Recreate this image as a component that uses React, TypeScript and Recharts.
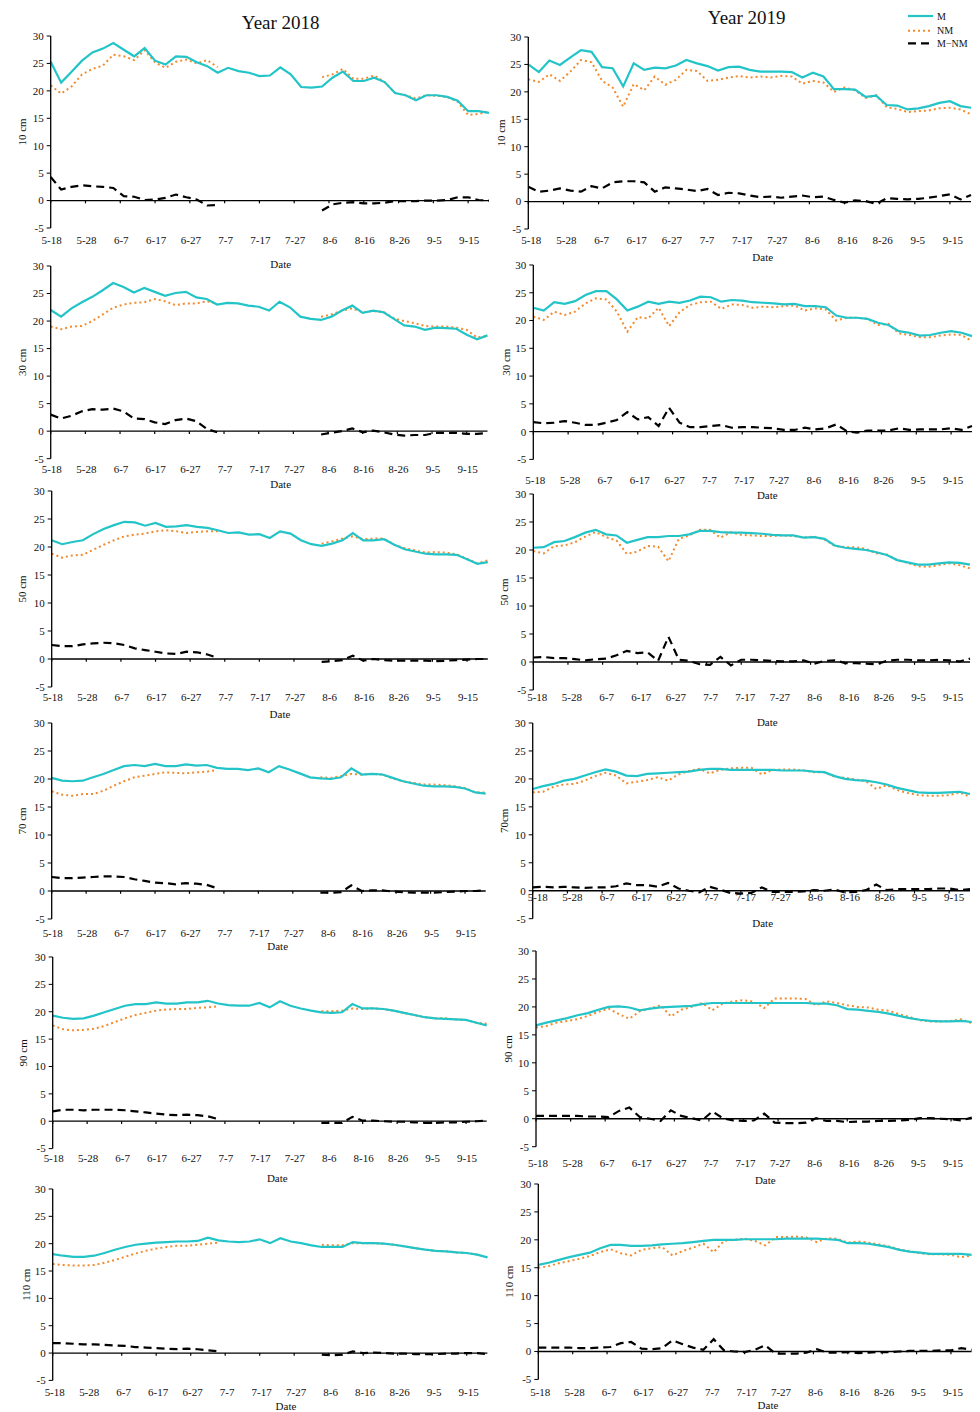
import React from "react";
import { LineChart, Line, XAxis, YAxis, ReferenceLine, Label } from "recharts";

// sample day offsets from 5-18 (every 3 days)
const days = [0, 3, 6, 9, 12, 15, 18, 21, 24, 27, 30, 33, 36, 39, 42, 45, 48, 51, 54, 57, 60, 63, 66, 69, 72, 75, 78, 81, 84, 87, 90, 93, 96, 99, 102, 105, 108, 111, 114, 117, 120, 123, 126];
const tickDays = [0, 10, 20, 30, 40, 50, 60, 70, 80, 90, 100, 110, 120];
const tickLabels = ["5-18", "5-28", "6-7", "6-17", "6-27", "7-7", "7-17", "7-27", "8-6", "8-16", "8-26", "9-5", "9-15"];
const yTicks = [-5, 0, 5, 10, 15, 20, 25, 30];

const N = null;

// 2018
const m18_10 = [25.3, 21.5, 23.5, 25.5, 27.0, 27.7, 28.7, 27.5, 26.3, 27.8, 25.5, 24.8, 26.3, 26.2, 25.2, 24.5, 23.3, 24.2, 23.6, 23.3, 22.7, 22.8, 24.3, 23.0, 20.7, 20.6, 20.8, 22.4, 23.5, 21.8, 21.8, 22.4, 21.6, 19.6, 19.2, 18.3, 19.2, 19.2, 18.9, 18.2, 16.3, 16.3, 16.0];
const nm18_10 = [21.0, 19.5, 20.8, 23.0, 24.0, 24.6, 26.6, 26.3, 25.6, 27.4, 25.2, 24.2, 25.3, 25.7, 25.0, 25.6, 24.3, N, N, N, N, N, N, N, N, N, 22.5, 23.0, 24.0, 22.2, 22.2, 22.8, 21.6, 19.6, 19.2, 18.6, 19.2, 19.1, 18.9, 18.0, 15.6, 15.8, 16.2];
const d18_10 = [4.3, 2.0, 2.5, 2.8, 2.6, 2.5, 2.3, 0.8, 0.7, 0.1, 0.2, 0.5, 1.1, 0.6, 0.2, -0.9, -0.8, N, N, N, N, N, N, N, N, N, -1.8, -0.7, -0.4, -0.3, -0.5, -0.5, -0.4, -0.1, -0.1, -0.1, 0, 0, 0.1, 0.6, 0.6, 0.1, 0];

const m18_30 = [22.0, 20.8, 22.3, 23.4, 24.4, 25.6, 26.9, 26.2, 25.2, 26.0, 25.3, 24.6, 25.1, 25.3, 24.3, 24.0, 23.0, 23.3, 23.2, 22.8, 22.6, 21.9, 23.5, 22.5, 20.8, 20.4, 20.2, 20.8, 21.9, 22.8, 21.5, 21.9, 21.6, 20.4, 19.2, 19.0, 18.4, 18.8, 18.7, 18.6, 17.5, 16.7, 17.4];
const nm18_30 = [19.0, 18.5, 19.0, 19.1, 20.0, 21.2, 22.4, 23.0, 23.3, 23.4, 24.0, 23.6, 22.9, 23.2, 23.2, 23.6, 23.2, N, N, N, N, N, N, N, N, N, 20.8, 21.2, 21.9, 22.3, 21.6, 21.8, 21.7, 20.5, 20.0, 19.6, 19.1, 19.0, 19.0, 18.8, 18.4, 17.0, 17.3];
const d18_30 = [3.0, 2.3, 2.8, 3.6, 4.0, 3.9, 4.1, 3.6, 2.3, 2.2, 1.6, 1.3, 2.0, 2.3, 1.8, 0.4, -0.2, N, N, N, N, N, N, N, N, N, -0.6, -0.3, 0, 0.5, -0.2, 0.1, -0.2, -0.6, -0.8, -0.7, -0.7, -0.3, -0.3, -0.3, -0.5, -0.5, -0.3];

const m18_50 = [21.2, 20.5, 20.9, 21.2, 22.3, 23.2, 23.9, 24.5, 24.4, 23.8, 24.3, 23.6, 23.7, 23.9, 23.6, 23.4, 23.0, 22.5, 22.6, 22.2, 22.3, 21.6, 22.8, 22.4, 21.2, 20.5, 20.2, 20.6, 21.2, 22.5, 21.2, 21.2, 21.4, 20.4, 19.6, 19.2, 18.8, 18.7, 18.7, 18.6, 17.8, 17.0, 17.3];
const nm18_50 = [18.8, 18.1, 18.5, 18.6, 19.5, 20.4, 21.2, 21.9, 22.2, 22.4, 22.8, 23.0, 22.8, 22.5, 22.7, 22.8, 22.8, N, N, N, N, N, N, N, N, N, 20.6, 21.0, 21.5, 21.9, 21.4, 21.5, 21.5, 20.4, 19.8, 19.4, 19.0, 19.1, 19.0, 18.7, 17.9, 17.1, 17.6];
const d18_50 = [2.5, 2.3, 2.3, 2.6, 2.8, 2.9, 2.8, 2.5, 1.9, 1.6, 1.3, 1.0, 0.9, 1.3, 1.2, 0.8, 0.2, N, N, N, N, N, N, N, N, N, -0.5, -0.4, -0.2, 0.6, -0.3, 0, -0.2, -0.3, -0.3, -0.3, -0.3, -0.4, -0.3, -0.2, -0.1, 0, 0];

const m18_70 = [20.2, 19.7, 19.6, 19.7, 20.3, 20.9, 21.6, 22.3, 22.5, 22.3, 22.7, 22.3, 22.3, 22.6, 22.4, 22.5, 22.0, 21.8, 21.8, 21.6, 21.9, 21.2, 22.3, 21.7, 21.0, 20.3, 20.1, 20.0, 20.3, 21.9, 20.8, 20.9, 20.8, 20.2, 19.6, 19.2, 18.8, 18.7, 18.7, 18.6, 18.3, 17.6, 17.4];
const nm18_70 = [17.8, 17.2, 17.0, 17.3, 17.3, 17.9, 18.8, 19.6, 20.3, 20.6, 20.9, 21.2, 21.1, 21.0, 21.2, 21.3, 21.6, N, N, N, N, N, N, N, N, N, 20.3, 20.2, 20.5, 20.9, 20.8, 20.9, 20.8, 20.1, 19.6, 19.3, 19.0, 19.0, 18.9, 18.7, 18.4, 17.6, 17.6];
const d18_70 = [2.5, 2.3, 2.3, 2.4, 2.5, 2.6, 2.6, 2.5, 2.1, 1.8, 1.5, 1.4, 1.2, 1.4, 1.3, 1.1, 0.5, N, N, N, N, N, N, N, N, N, -0.3, -0.3, -0.2, 1.0, 0.0, 0.1, 0.1, -0.1, -0.2, -0.3, -0.3, -0.3, -0.2, -0.1, 0, 0, 0.1];

const m18_90 = [19.3, 18.9, 18.7, 18.8, 19.3, 19.9, 20.5, 21.1, 21.4, 21.4, 21.7, 21.5, 21.5, 21.7, 21.7, 22.0, 21.5, 21.2, 21.1, 21.1, 21.6, 20.8, 21.9, 21.1, 20.6, 20.2, 19.9, 19.8, 19.9, 21.4, 20.6, 20.6, 20.5, 20.2, 19.8, 19.4, 19.0, 18.8, 18.7, 18.6, 18.5, 18.0, 17.5];
const nm18_90 = [17.5, 16.8, 16.6, 16.7, 16.9, 17.4, 18.1, 18.8, 19.4, 19.8, 20.2, 20.4, 20.5, 20.5, 20.7, 20.8, 21.0, N, N, N, N, N, N, N, N, N, 20.1, 20.1, 20.2, 20.6, 20.5, 20.6, 20.5, 20.2, 19.8, 19.4, 19.0, 18.8, 18.8, 18.6, 18.5, 18.0, 17.8];
const d18_90 = [1.8, 2.1, 2.1, 2.0, 2.1, 2.1, 2.1, 2.0, 1.8, 1.6, 1.4, 1.2, 1.1, 1.2, 1.1, 0.9, 0.4, N, N, N, N, N, N, N, N, N, -0.3, -0.3, -0.3, 0.8, 0.1, 0.1, 0.0, -0.1, -0.1, -0.2, -0.3, -0.3, -0.2, -0.2, -0.1, 0, 0.1];

const m18_110 = [18.1, 17.8, 17.6, 17.6, 17.8, 18.3, 18.9, 19.4, 19.8, 20.0, 20.2, 20.3, 20.4, 20.4, 20.5, 21.1, 20.6, 20.4, 20.3, 20.4, 20.8, 20.1, 21.0, 20.4, 20.1, 19.7, 19.4, 19.4, 19.4, 20.3, 20.1, 20.1, 20.0, 19.8, 19.5, 19.2, 18.9, 18.7, 18.6, 18.4, 18.3, 18.0, 17.5];
const nm18_110 = [16.3, 16.1, 16.0, 16.0, 16.1, 16.5, 17.0, 17.6, 18.2, 18.7, 19.1, 19.4, 19.6, 19.6, 19.8, 20.0, 20.2, N, N, N, N, N, N, N, N, N, 19.8, 19.7, 19.7, 20.1, 20.1, 20.1, 20.0, 19.8, 19.5, 19.2, 18.9, 18.7, 18.6, 18.4, 18.3, 18.0, 17.5];
const d18_110 = [1.8, 1.8, 1.7, 1.6, 1.6, 1.5, 1.4, 1.3, 1.1, 1.0, 0.9, 0.8, 0.7, 0.8, 0.7, 0.5, 0.3, N, N, N, N, N, N, N, N, N, -0.3, -0.4, -0.3, 0.3, 0.0, 0.1, 0.0, -0.1, -0.1, -0.2, -0.2, -0.2, -0.1, -0.1, 0, 0, -0.2];

// 2019
const m19_10 = [25.0, 23.6, 25.7, 24.9, 26.3, 27.6, 27.3, 24.5, 24.3, 21.0, 25.2, 24.0, 24.4, 24.3, 24.8, 25.8, 25.2, 24.7, 23.9, 24.5, 24.6, 24.0, 23.7, 23.7, 23.7, 23.6, 22.6, 23.5, 22.8, 20.5, 20.5, 20.4, 19.1, 19.3, 17.6, 17.5, 16.8, 17.0, 17.4, 18.0, 18.3, 17.4, 17.1];
const nm19_10 = [22.3, 21.8, 23.2, 22.0, 23.7, 25.8, 25.4, 22.0, 20.8, 17.3, 21.4, 20.3, 22.8, 21.3, 22.2, 24.0, 23.8, 22.0, 22.2, 22.6, 22.9, 22.6, 22.8, 22.6, 22.9, 22.8, 21.5, 22.0, 21.7, 20.0, 20.8, 20.3, 18.9, 19.4, 17.2, 16.9, 16.3, 16.5, 16.6, 17.0, 17.1, 16.8, 15.9];
const d19_10 = [2.7, 1.8, 2.0, 2.4, 2.0, 1.8, 2.8, 2.4, 3.5, 3.7, 3.7, 3.5, 1.8, 2.6, 2.4, 2.2, 1.9, 2.3, 1.2, 1.6, 1.5, 1.1, 0.8, 0.9, 0.7, 0.9, 1.1, 0.8, 0.9, 0.3, -0.2, 0.2, 0.1, -0.4, 0.6, 0.5, 0.4, 0.5, 0.7, 1.0, 1.3, 0.4, 1.2];

const m19_30 = [22.3, 21.8, 23.3, 23.0, 23.5, 24.6, 25.3, 25.3, 23.8, 21.8, 22.5, 23.4, 23.0, 23.4, 23.2, 23.6, 24.3, 24.2, 23.4, 23.7, 23.6, 23.3, 23.2, 23.1, 22.9, 23.0, 22.6, 22.6, 22.4, 20.9, 20.5, 20.5, 20.3, 19.6, 19.2, 18.1, 17.8, 17.3, 17.4, 17.8, 18.1, 17.8, 17.2];
const nm19_30 = [20.7, 20.1, 21.6, 21.0, 21.6, 23.1, 24.0, 23.8, 21.6, 18.0, 20.6, 20.4, 22.3, 19.0, 21.5, 22.8, 23.3, 23.4, 22.1, 22.9, 22.8, 22.3, 22.5, 22.4, 22.6, 22.7, 21.8, 22.2, 22.0, 20.0, 20.5, 20.5, 20.3, 19.2, 19.4, 17.7, 17.4, 17.0, 17.0, 17.3, 17.5, 17.4, 16.3];
const d19_30 = [1.7, 1.5, 1.6, 1.9, 1.6, 1.2, 1.2, 1.6, 2.1, 3.5, 2.2, 2.6, 1.0, 4.3, 1.6, 0.8, 0.8, 1.0, 1.2, 0.7, 0.8, 0.8, 0.7, 0.6, 0.3, 0.3, 0.7, 0.4, 0.6, 1.3, 0.1, -0.2, 0.2, 0.2, 0.2, 0.6, 0.3, 0.4, 0.4, 0.4, 0.6, 0.3, 1.0];

const m19_50 = [20.4, 20.5, 21.4, 21.6, 22.3, 23.1, 23.6, 22.8, 22.6, 21.3, 21.8, 22.3, 22.3, 22.5, 22.5, 22.8, 23.4, 23.4, 23.2, 23.1, 23.1, 23.0, 22.9, 22.7, 22.6, 22.6, 22.2, 22.3, 22.0, 20.8, 20.4, 20.2, 20.0, 19.6, 19.1, 18.2, 17.8, 17.4, 17.4, 17.6, 17.8, 17.7, 17.4];
const nm19_50 = [19.8, 19.4, 20.7, 20.8, 21.4, 22.4, 23.2, 22.3, 21.7, 19.3, 19.7, 20.7, 20.6, 18.0, 22.0, 22.6, 23.6, 23.6, 22.2, 23.2, 22.7, 22.6, 22.5, 22.5, 22.6, 22.5, 22.2, 22.4, 21.9, 20.7, 20.5, 20.5, 20.2, 19.4, 19.2, 18.2, 17.7, 17.1, 17.0, 17.3, 17.6, 17.3, 16.7];
const d19_50 = [0.8, 0.9, 0.7, 0.7, 0.5, 0.3, 0.5, 0.6, 1.2, 2.0, 1.6, 1.7, 0.2, 4.5, 0.4, 0.2, -0.4, -0.5, 0.9, -0.6, 0.4, 0.4, 0.3, 0.2, 0.1, 0.1, 0.3, -0.3, 0.2, 0.3, -0.2, -0.2, -0.3, -0.4, 0.2, 0.4, 0.4, 0.3, 0.3, 0.4, 0.3, 0.1, 0.6];

const m19_70 = [18.2, 18.7, 19.1, 19.7, 20.0, 20.6, 21.2, 21.7, 21.3, 20.6, 20.5, 20.9, 21.0, 21.1, 21.2, 21.3, 21.6, 21.8, 21.8, 21.6, 21.6, 21.6, 21.6, 21.6, 21.5, 21.5, 21.5, 21.3, 21.2, 20.5, 20.0, 19.8, 19.7, 19.4, 19.0, 18.4, 18.0, 17.6, 17.5, 17.5, 17.6, 17.7, 17.3];
const nm19_70 = [17.6, 17.7, 18.6, 19.0, 19.1, 19.7, 20.5, 21.1, 20.6, 19.2, 19.5, 19.8, 20.3, 19.7, 20.8, 21.4, 21.8, 21.0, 21.6, 21.9, 22.0, 22.0, 20.8, 21.6, 21.7, 21.7, 21.5, 21.2, 21.2, 20.4, 20.2, 19.9, 19.6, 18.2, 18.9, 18.0, 17.5, 17.1, 17.0, 17.0, 17.1, 17.6, 16.8];
const d19_70 = [0.6, 0.7, 0.6, 0.7, 0.6, 0.5, 0.6, 0.6, 0.8, 1.3, 1.0, 1.0, 0.7, 1.4, 0.4, 0, -0.3, 0.7, 0.2, -0.4, -0.5, -0.4, 0.6, -0.2, -0.2, -0.2, -0.1, 0.1, 0.0, 0.2, -0.3, -0.2, 0.1, 1.1, 0.1, 0.3, 0.3, 0.3, 0.3, 0.4, 0.4, 0.1, 0.3];

const m19_90 = [16.7, 17.2, 17.6, 18.0, 18.5, 18.9, 19.5, 20.0, 20.1, 19.9, 19.4, 19.7, 19.9, 20.0, 20.1, 20.2, 20.5, 20.7, 20.7, 20.7, 20.7, 20.7, 20.7, 20.7, 20.7, 20.7, 20.7, 20.6, 20.6, 20.3, 19.6, 19.5, 19.3, 19.1, 18.8, 18.4, 18.0, 17.7, 17.5, 17.4, 17.4, 17.5, 17.3];
const nm19_90 = [16.3, 16.6, 17.2, 17.5, 17.8, 18.4, 19.1, 19.7, 18.7, 17.9, 19.2, 19.7, 20.3, 18.3, 19.5, 20.0, 20.7, 19.4, 20.6, 21.0, 21.2, 20.9, 19.8, 21.5, 21.5, 21.5, 21.4, 20.3, 21.0, 20.7, 20.3, 20.0, 19.9, 19.5, 19.3, 18.7, 18.2, 17.6, 17.4, 17.4, 17.5, 17.8, 17.1];
const d19_90 = [0.5, 0.5, 0.5, 0.5, 0.5, 0.4, 0.4, 0.3, 1.4, 2.0, 0.3, 0.0, -0.4, 1.5, 0.5, 0.1, -0.3, 1.3, 0.1, -0.3, -0.4, -0.3, 0.9, -0.7, -0.8, -0.8, -0.7, 0.1, -0.4, -0.4, -0.6, -0.5, -0.5, -0.4, -0.4, -0.3, -0.2, 0.1, 0.1, 0, -0.1, -0.3, 0.2];

const m19_110 = [15.5, 15.9, 16.4, 16.9, 17.3, 17.7, 18.5, 19.1, 19.1, 18.9, 18.9, 19.0, 19.2, 19.3, 19.4, 19.6, 19.8, 20.0, 20.0, 20.0, 20.1, 20.1, 20.1, 20.1, 20.2, 20.2, 20.2, 20.2, 20.1, 20.0, 19.4, 19.4, 19.3, 19.0, 18.7, 18.2, 17.9, 17.7, 17.5, 17.5, 17.5, 17.5, 17.3];
const nm19_110 = [15.0, 15.3, 15.8, 16.2, 16.6, 17.1, 17.8, 18.3, 17.6, 17.2, 18.2, 18.5, 18.7, 17.2, 18.0, 18.6, 19.3, 17.8, 19.8, 20.0, 20.2, 19.8, 19.0, 20.5, 20.5, 20.6, 20.4, 19.6, 20.3, 20.2, 19.5, 19.7, 19.5, 19.2, 18.8, 18.3, 17.9, 17.6, 17.4, 17.4, 17.3, 16.9, 17.2];
const d19_110 = [0.7, 0.7, 0.7, 0.7, 0.6, 0.6, 0.7, 0.8, 1.5, 1.7, 0.5, 0.4, 0.6, 2.0, 1.3, 0.7, 0.3, 2.2, 0.2, 0, -0.1, 0.3, 1.1, -0.4, -0.4, -0.4, -0.2, 0.4, -0.2, -0.2, -0.1, -0.3, -0.2, -0.1, -0.1, 0, 0.1, 0.1, 0.1, 0.2, 0.2, 0.6, 0.3];

const CYAN = "#22C4C8";
const ORANGE = "#F28A2E";
const FONT = '"Liberation Serif", "Times New Roman", serif';

type Series = (number | null)[];
interface PanelDef {
  yLabel: string;
  m: Series;
  nm: Series;
  diff: Series;
  colLeft: number;
  plotLeft: number;
  plotRight: number;
  plotTop: number;
  plotBottom: number;
  tickY: number;
  tickDx: number;
  dateX: number;
  dateY: number;
  yLabelX: number;
}

const panels: PanelDef[] = [
  { yLabel: "10 cm", m: m18_10, nm: nm18_10, diff: d18_10, colLeft: 0, plotLeft: 50.7, plotRight: 489, plotTop: 35.7, plotBottom: 227.7, tickY: 239.3, tickDx: 1, dateX: 280.7, dateY: 263.3, yLabelX: 22 },
  { yLabel: "10 cm", m: m19_10, nm: nm19_10, diff: d19_10, colLeft: 490, plotLeft: 528.3, plotRight: 971, plotTop: 36.7, plotBottom: 228.7, tickY: 239.3, tickDx: 3, dateX: 762.7, dateY: 256.7, yLabelX: 500.7 },
  { yLabel: "30 cm", m: m18_30, nm: nm18_30, diff: d18_30, colLeft: 0, plotLeft: 50.7, plotRight: 487.5, plotTop: 266.3, plotBottom: 459, tickY: 469.7, tickDx: 1, dateX: 280.7, dateY: 484, yLabelX: 22 },
  { yLabel: "30 cm", m: m19_30, nm: nm19_30, diff: d19_30, colLeft: 490, plotLeft: 533.3, plotRight: 972, plotTop: 265.3, plotBottom: 459.7, tickY: 480.7, tickDx: 2, dateX: 767.3, dateY: 495.3, yLabelX: 505.7 },
  { yLabel: "50 cm", m: m18_50, nm: nm18_50, diff: d18_50, colLeft: 0, plotLeft: 51.7, plotRight: 487.8, plotTop: 491, plotBottom: 687, tickY: 697, tickDx: 1, dateX: 280, dateY: 713.7, yLabelX: 22 },
  { yLabel: "50 cm", m: m19_50, nm: nm19_50, diff: d19_50, colLeft: 490, plotLeft: 533.3, plotRight: 970, plotTop: 494, plotBottom: 690, tickY: 697.3, tickDx: 4, dateX: 767.3, dateY: 721.7, yLabelX: 504 },
  { yLabel: "70 cm", m: m18_70, nm: nm18_70, diff: d18_70, colLeft: 0, plotLeft: 51.7, plotRight: 485.7, plotTop: 723.3, plotBottom: 919.3, tickY: 933.3, tickDx: 1, dateX: 277.7, dateY: 946.7, yLabelX: 22 },
  { yLabel: "70cm", m: m19_70, nm: nm19_70, diff: d19_70, colLeft: 490, plotLeft: 532.7, plotRight: 970, plotTop: 723.3, plotBottom: 919, tickY: 897.7, tickDx: 5, dateX: 762.7, dateY: 923.3, yLabelX: 504 },
  { yLabel: "90 cm", m: m18_90, nm: nm18_90, diff: d18_90, colLeft: 0, plotLeft: 52.7, plotRight: 486.7, plotTop: 956.7, plotBottom: 1148.3, tickY: 1157.3, tickDx: 1, dateX: 277.3, dateY: 1177.7, yLabelX: 23 },
  { yLabel: "90 cm", m: m19_90, nm: nm19_90, diff: d19_90, colLeft: 490, plotLeft: 536, plotRight: 971.8, plotTop: 951, plotBottom: 1146.7, tickY: 1163.3, tickDx: 2, dateX: 765.3, dateY: 1180, yLabelX: 508 },
  { yLabel: "110 cm", m: m18_110, nm: nm18_110, diff: d18_110, colLeft: 0, plotLeft: 52.7, plotRight: 487.4, plotTop: 1189.3, plotBottom: 1380.7, tickY: 1392.3, tickDx: 2, dateX: 286, dateY: 1406, yLabelX: 26 },
  { yLabel: "110 cm", m: m19_110, nm: nm19_110, diff: d19_110, colLeft: 490, plotLeft: 538.3, plotRight: 971.6, plotTop: 1184.3, plotBottom: 1379.7, tickY: 1392.3, tickDx: 2, dateX: 768, dateY: 1405, yLabelX: 509 },
];

function XTick(props: any) {
  const { x, y, payload, off, dx } = props;
  const i = tickDays.indexOf(payload.value);
  return (
    <text x={x + dx} y={y + off} textAnchor="middle" dominantBaseline="central" fontSize={11} fill="#111" fontFamily={FONT}>
      {tickLabels[i]}
    </text>
  );
}

function Panel({ p }: { p: PanelDef }) {
  const mt = 10;
  const xAxisH = 44;
  const top = p.plotTop - mt;
  const height = mt + (p.plotBottom - p.plotTop) + xAxisH;
  const width = p.plotRight + 6 - p.colLeft;
  const rows = days.map((d, i) => ({ day: d, m: p.m[i], nm: p.nm[i], diff: p.diff[i] }));
  const yl = p.yLabelX - p.colLeft;
  const yc = mt + (p.plotBottom - p.plotTop) / 2;

  return (
    <div style={{ position: "absolute", left: p.colLeft, top }}>
      <LineChart width={width} height={height} data={rows} margin={{ top: mt, right: 6, left: 0, bottom: 0 }}>
        <XAxis
          dataKey="day"
          type="number"
          domain={[0, 126]}
          ticks={tickDays}
          interval={0}
          axisLine={false}
          tickLine={false}
          tickSize={0}
          tickMargin={0}
          height={xAxisH}
          tick={<XTick off={p.tickY - p.plotBottom} dx={p.tickDx} />}
          label={
            <Label
              content={() => (
                <text x={p.dateX - p.colLeft} y={p.dateY - top} textAnchor="middle" dominantBaseline="central" fontSize={11} fill="#111" fontFamily={FONT}>
                  Date
                </text>
              )}
            />
          }
        />
        <YAxis
          type="number"
          domain={[-5, 30]}
          ticks={yTicks}
          interval={0}
          width={p.plotLeft - p.colLeft}
          tickSize={4}
          tickMargin={3}
          axisLine={{ stroke: "#000", strokeWidth: 1.3 }}
          tickLine={{ stroke: "#000" }}
          tick={{ fontSize: 11, fill: "#111", fontFamily: FONT }}
          label={
            <Label
              content={() => (
                <text x={yl} y={yc} transform={`rotate(-90 ${yl} ${yc})`} textAnchor="middle" dominantBaseline="central" fontSize={11} fill="#111" fontFamily={FONT}>
                  {p.yLabel}
                </text>
              )}
            />
          }
        />
        <ReferenceLine y={0} stroke="#000" strokeWidth={1.3} />
        {tickDays.map((t) => (
          <ReferenceLine key={t} segment={[{ x: t, y: 0 }, { x: t, y: -0.5 }]} stroke="#000" strokeWidth={1.2} />
        ))}
        <Line type="linear" dataKey="nm" stroke={ORANGE} strokeWidth={2} strokeDasharray="2 3" dot={false} connectNulls={false} isAnimationActive={false} />
        <Line type="linear" dataKey="m" stroke={CYAN} strokeWidth={2.2} dot={false} connectNulls={false} isAnimationActive={false} />
        <Line type="linear" dataKey="diff" stroke="#000" strokeWidth={2.2} strokeDasharray="8 5" dot={false} connectNulls={false} isAnimationActive={false} />
      </LineChart>
    </div>
  );
}

export default function App() {
  return (
    <div style={{ position: "absolute", left: 0, top: 0, width: 980, height: 1412, background: "#fff", fontFamily: FONT }}>
      {panels.map((p, i) => (
        <Panel key={i} p={p} />
      ))}
      <svg width={980} height={1412} style={{ position: "absolute", left: 0, top: 0, pointerEvents: "none" }}>
        <text x={280.7} y={22.7} textAnchor="middle" dominantBaseline="central" fontSize={19} fill="#111" fontFamily={FONT}>
          Year 2018
        </text>
        <text x={746.7} y={17.3} textAnchor="middle" dominantBaseline="central" fontSize={19} fill="#111" fontFamily={FONT}>
          Year 2019
        </text>
        <line x1={908} x2={933} y1={16} y2={16} stroke={CYAN} strokeWidth={2.2} />
        <text x={937} y={16} dominantBaseline="central" fontSize={10} fill="#111" fontFamily={FONT}>M</text>
        <line x1={908} x2={933} y1={30.7} y2={30.7} stroke={ORANGE} strokeWidth={2} strokeDasharray="2 3" />
        <text x={937} y={30.7} dominantBaseline="central" fontSize={10} fill="#111" fontFamily={FONT}>NM</text>
        <line x1={908} x2={933} y1={43.3} y2={43.3} stroke="#000" strokeWidth={2.2} strokeDasharray="8 5" />
        <text x={937} y={43.3} dominantBaseline="central" fontSize={10} fill="#111" fontFamily={FONT}>M−NM</text>
      </svg>
    </div>
  );
}
